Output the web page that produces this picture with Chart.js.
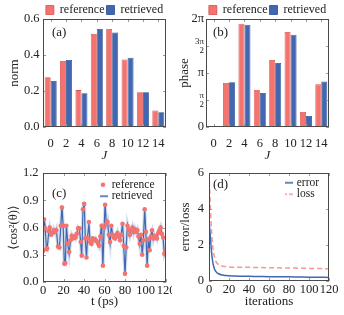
<!DOCTYPE html>
<html>
<head>
<meta charset="utf-8">
<script src="https://cdn.jsdelivr.net/npm/chart.js@4.4.0/dist/chart.umd.min.js"></script>
<style>
  html, body { margin: 0; padding: 0; background: #fff; }
  #fig { position: relative; width: 344px; height: 315px; overflow: hidden; }
  #fig canvas { position: absolute; }
  .tag { position: absolute; font: 13px "Liberation Serif", serif; color: #222; line-height: 1; }
</style>
</head>
<body>
<div id="fig">
  <canvas id="normChart" width="172" height="162" style="left:0;top:0"></canvas>
  <canvas id="phaseChart" width="172" height="162" style="left:172px;top:0"></canvas>
  <canvas id="alignChart" width="172" height="153" style="left:0;top:162px"></canvas>
  <canvas id="lossChart" width="172" height="153" style="left:172px;top:162px"></canvas>
  <div class="tag" style="left:52px;top:25px">(a)</div>
  <div class="tag" style="left:213px;top:25px">(b)</div>
  <div class="tag" style="left:52px;top:186px">(c)</div>
  <div class="tag" style="left:213px;top:177px">(d)</div>
</div>
<script>
// panel (a) / (b): expansion coefficients per J
const J = ['0', '2', '4', '6', '8', '10', '12', '14'];
const normRef = [0.276, 0.367, 0.205, 0.517, 0.545, 0.375, 0.193, 0.092];
const normRet = [0.256, 0.372, 0.188, 0.545, 0.525, 0.385, 0.193, 0.082];
const normTicks = [0, 0.2, 0.4, 0.6];
const phaseRef = [0.03, 2.56, 6.01, 2.15, 3.90, 5.53, 0.87, 2.48];
const phaseRet = [0.03, 2.60, 5.95, 1.98, 3.72, 5.37, 0.64, 2.64];
const phaseTicks = [0, Math.PI / 2, Math.PI, 3 * Math.PI / 2, 2 * Math.PI];
const phaseTickLabels = ['0', ['π', '2'], 'π', ['3π', '2'], '2π'];

// panel (c): alignment trace
const tPs = [0, 1, 2, 3.3, 4, 5.5, 6.5, 8, 9.2, 10.4,
  11.7, 13, 14.6, 16, 17.3, 18.5, 19.7, 20.8, 21.8, 22.8,
  24.2, 25.5, 26.8, 28, 29.3, 30.6, 31.8, 33, 34.3, 35.6,
  36.8, 37.8, 39, 40.2, 41.3, 42.4, 43.5, 44.8, 46, 47.3,
  48.5, 49.8, 51, 52.3, 53.5, 54.7, 56, 57.2, 58.4, 59.6,
  60.6, 61.8, 63, 64.2, 65.4, 66.6, 67.8, 69, 70.3, 71.5,
  72.7, 74, 75.2, 76.4, 77.6, 78.8, 80, 81.2, 82.4, 83.6,
  84.8, 86, 87.2, 88.4, 89.6, 90.8, 92, 93.2, 94.4, 95.6,
  96.8, 98, 99.2, 100.4, 101.6, 102.8, 104, 105.2, 106.4, 107.6,
  108.8, 110, 111.2, 112.4, 113.6, 114.8, 116, 117.2, 118.4, 119.6];
const cosRef = [0.34, 0.69, 0.59, 0.36, 0.37, 0.56, 0.60, 0.52, 0.54, 0.57,
  0.55, 0.57, 0.39, 0.38, 0.62, 0.82, 0.62, 0.20, 0.21, 0.62,
  0.42, 0.33, 0.46, 0.51, 0.48, 0.50, 0.49, 0.53, 0.59, 0.59,
  0.44, 0.29, 0.80, 0.86, 0.48, 0.27, 0.48, 0.66, 0.44, 0.42,
  0.48, 0.46, 0.47, 0.45, 0.43, 0.40, 0.50, 0.62, 0.18, 0.60,
  0.85, 0.64, 0.66, 0.52, 0.44, 0.62, 0.52, 0.49, 0.48, 0.52,
  0.54, 0.50, 0.46, 0.52, 0.64, 0.40, 0.09, 0.38, 0.62, 0.58,
  0.52, 0.56, 0.60, 0.55, 0.58, 0.55, 0.57, 0.50, 0.42, 0.52,
  0.30, 0.46, 0.80, 0.55, 0.18, 0.47, 0.35, 0.50, 0.57, 0.48,
  0.51, 0.49, 0.48, 0.54, 0.57, 0.60, 0.53, 0.49, 0.31, 0.34];
const cosRet = [0.34, 0.70, 0.62, 0.37, 0.36, 0.54, 0.60, 0.52, 0.53, 0.58,
  0.54, 0.58, 0.38, 0.37, 0.60, 0.84, 0.61, 0.21, 0.20, 0.63,
  0.42, 0.31, 0.45, 0.52, 0.49, 0.51, 0.48, 0.53, 0.60, 0.58,
  0.43, 0.28, 0.79, 0.88, 0.47, 0.26, 0.50, 0.64, 0.42, 0.41,
  0.47, 0.46, 0.48, 0.45, 0.42, 0.39, 0.51, 0.64, 0.17, 0.58,
  0.87, 0.63, 0.67, 0.51, 0.42, 0.63, 0.53, 0.48, 0.47, 0.51,
  0.55, 0.49, 0.46, 0.53, 0.65, 0.39, 0.08, 0.40, 0.63, 0.57,
  0.51, 0.57, 0.61, 0.54, 0.59, 0.55, 0.58, 0.49, 0.41, 0.53,
  0.29, 0.47, 0.81, 0.53, 0.17, 0.49, 0.34, 0.52, 0.56, 0.47,
  0.52, 0.50, 0.47, 0.55, 0.58, 0.61, 0.52, 0.48, 0.30, 0.33];
const cosTicks = [0, 0.3, 0.6, 0.9, 1.2];
const tTicks = [0, 20, 40, 60, 80, 100, 120];

// panel (d): convergence
const iterations = [0, 1, 2, 3, 4, 5, 6, 7, 8, 10, 12, 14, 16, 18, 20, 25, 30, 40, 50, 60, 70, 80, 90, 100, 110, 120];
const errorVals = [3.4, 2.7, 1.95, 1.35, 0.98, 0.75, 0.6, 0.52, 0.46, 0.39, 0.35, 0.33, 0.31, 0.3, 0.29, 0.28, 0.27, 0.26, 0.25, 0.24, 0.235, 0.23, 0.22, 0.21, 0.205, 0.2];
const lossVals = [6.0, 4.6, 3.3, 2.4, 1.8, 1.45, 1.22, 1.08, 0.99, 0.9, 0.85, 0.82, 0.8, 0.79, 0.78, 0.77, 0.77, 0.76, 0.75, 0.74, 0.73, 0.72, 0.71, 0.7, 0.69, 0.68];
const lossTicks = [0, 2, 4, 6];

const RED = '#F4736F';
const RED_EDGE = '#D9524E';
const BLUE = '#4167B1';
const BLUE_EDGE = '#2C4E93';

Chart.defaults.font.family = '"Liberation Serif", "DejaVu Serif", serif';
Chart.defaults.font.size = 12;
Chart.defaults.color = '#222';
Chart.defaults.animation = false;

// box around the plot with small inward ticks on every side
const framePlugin = {
  id: 'frame',
  afterDatasetsDraw(chart) {
    const { ctx, chartArea: a, scales } = chart;
    ctx.save();
    ctx.lineWidth = 1;
    ctx.strokeStyle = '#9a9a9a';
    ctx.beginPath();
    scales.x.ticks.forEach((t, i) => {
      const px = Math.round(scales.x.getPixelForTick(i)) + 0.5;
      ctx.moveTo(px, a.bottom); ctx.lineTo(px, a.bottom - 3);
      ctx.moveTo(px, a.top); ctx.lineTo(px, a.top + 3);
    });
    scales.y.ticks.forEach((t, i) => {
      const py = Math.round(scales.y.getPixelForTick(i)) + 0.5;
      ctx.moveTo(a.left, py); ctx.lineTo(a.left + 3, py);
      ctx.moveTo(a.right, py); ctx.lineTo(a.right - 3, py);
    });
    ctx.stroke();
    ctx.strokeStyle = '#4a4a4a';
    ctx.strokeRect(Math.round(a.left) + 0.5, Math.round(a.top) + 0.5,
      Math.round(a.right - a.left) - 1, Math.round(a.bottom - a.top) - 1);
    ctx.restore();
  }
};

// moves a chartArea legend to a fixed spot inside the plot
const legendSpot = {
  id: 'legendSpot',
  afterLayout(chart, args, opts) {
    const lg = chart.legend;
    const w = lg.width, h = lg.height;
    lg.left = opts.x; lg.right = opts.x + w;
    lg.top = opts.y; lg.bottom = opts.y + h;
  }
};

function fixSize(w, h) {
  return (scale) => {
    if (w != null) scale.width = w;
    if (h != null) scale.height = h;
    scale.paddingLeft = scale.paddingRight = scale.paddingTop = scale.paddingBottom = 0;
  };
}

function setTicks(values) {
  return (scale) => { scale.ticks = values.map(v => ({ value: v })); };
}

function marker(draw) {
  const c = document.createElement('canvas');
  c.width = 12; c.height = 6;
  draw(c.getContext('2d'));
  return c;
}
const dotMark = marker(ctx => { ctx.fillStyle = RED; ctx.beginPath(); ctx.arc(6, 3, 2.3, 0, Math.PI * 2); ctx.fill(); });
const blueLineMark = marker(ctx => { ctx.strokeStyle = BLUE; ctx.lineWidth = 1.6; ctx.beginPath(); ctx.moveTo(1, 3); ctx.lineTo(11, 3); ctx.stroke(); });
const dashMark = marker(ctx => { ctx.strokeStyle = 'rgba(244,115,111,0.75)'; ctx.lineWidth = 1.6; ctx.setLineDash([4, 2]); ctx.beginPath(); ctx.moveTo(1, 3); ctx.lineTo(12, 3); ctx.stroke(); });

function markedLabels(marks) {
  return (chart) => Chart.defaults.plugins.legend.labels.generateLabels(chart)
    .filter(it => it.text)
    .map(it => Object.assign(it, { pointStyle: marks[it.text] }));
}

const barLegend = {
  position: 'top', fullSize: false, maxHeight: 17,
  labels: { boxWidth: 8, boxHeight: 9, padding: 2, font: { size: 12 } }
};

function barDatasets(ref, ret) {
  return [
    { label: 'reference', data: ref, backgroundColor: RED, borderColor: RED_EDGE, borderWidth: 0.8, categoryPercentage: 0.78, barPercentage: 1 },
    { label: 'retrieved', data: ret, backgroundColor: BLUE, borderColor: BLUE_EDGE, borderWidth: 0.8, categoryPercentage: 0.78, barPercentage: 1 }
  ];
}

const jAxis = {
  grid: { display: false, drawTicks: false },
  border: { display: false },
  ticks: { padding: 9, autoSkip: false, maxRotation: 0, font: { size: 12.5 } },
  title: { display: true, text: 'J', font: { size: 13, style: 'italic', lineHeight: 1 }, padding: 0 },
  afterFit: fixSize(null, 35)
};

new Chart(document.getElementById('normChart'), {
  type: 'bar',
  data: { labels: J, datasets: barDatasets(normRef, normRet) },
  options: {
    responsive: false, devicePixelRatio: 1,
    layout: { padding: { top: 2, right: 6, left: 0, bottom: 0 } },
    plugins: { legend: barLegend, tooltip: { enabled: false } },
    scales: {
      x: jAxis,
      y: {
        min: 0, max: 0.6,
        grid: { display: false, drawTicks: false },
        border: { display: false },
        afterBuildTicks: setTicks(normTicks),
        ticks: { padding: 3.5, font: { size: 12.5 }, callback: v => v.toFixed(1) },
        title: { display: true, text: 'norm', font: { size: 13, lineHeight: 1 }, padding: { top: 8, bottom: 0 } },
        afterFit: fixSize(43, null)
      }
    }
  },
  plugins: [framePlugin]
});

new Chart(document.getElementById('phaseChart'), {
  type: 'bar',
  data: { labels: J, datasets: barDatasets(phaseRef, phaseRet) },
  options: {
    responsive: false, devicePixelRatio: 1,
    layout: { padding: { top: 2, right: 15, left: 0, bottom: 0 } },
    plugins: { legend: barLegend, tooltip: { enabled: false } },
    scales: {
      x: jAxis,
      y: {
        min: 0, max: 2 * Math.PI,
        grid: { display: false, drawTicks: false },
        border: { display: false },
        afterBuildTicks: setTicks(phaseTicks),
        ticks: {
          padding: 2,
          callback: (v, i) => phaseTickLabels[i],
          font: (c) => Array.isArray(phaseTickLabels[c.index]) ? { size: 9, lineHeight: 1 } : { size: 12.5 }
        },
        title: { display: true, text: 'phase', font: { size: 13, lineHeight: 1 }, padding: { top: 6, bottom: 0 } },
        afterFit: fixSize(34, null)
      }
    }
  },
  plugins: [framePlugin]
});

new Chart(document.getElementById('alignChart'), {
  type: 'scatter',
  data: {
    datasets: [
      { label: 'reference', data: tPs.map((t, i) => ({ x: t, y: cosRef[i] })), backgroundColor: RED, borderWidth: 0, pointRadius: 2.3, order: 0 },
      { label: 'retrieved', data: tPs.map((t, i) => ({ x: t, y: cosRet[i] })), showLine: true, borderColor: BLUE, borderWidth: 1.2, pointRadius: 0, order: 1 },
      { label: '', data: tPs.map((t, i) => ({ x: t, y: cosRet[i] })), showLine: true, borderColor: 'rgba(65,103,177,0.22)', borderWidth: 3.5, pointRadius: 0, order: 2 }
    ]
  },
  options: {
    responsive: false, devicePixelRatio: 1,
    layout: { padding: { top: 11, right: 6, left: 0, bottom: 0 } },
    plugins: {
      tooltip: { enabled: false },
      legend: {
        position: 'chartArea', align: 'start',
        labels: {
          usePointStyle: true, boxWidth: 6, boxHeight: 6, padding: 0, font: { size: 11.5 },
          generateLabels: markedLabels({ reference: dotMark, retrieved: blueLineMark })
        }
      },
      legendSpot: { x: 100, y: 17 }
    },
    scales: {
      x: {
        type: 'linear', min: 0, max: 120,
        grid: { display: false, drawTicks: false },
        border: { display: false },
        afterBuildTicks: setTicks(tTicks),
        ticks: { padding: 1, autoSkip: false, maxRotation: 0, font: { size: 12.5 } },
        title: { display: true, text: 't (ps)', font: { size: 13, lineHeight: 1 }, padding: { top: 0, bottom: 7 } },
        afterFit: fixSize(null, 33)
      },
      y: {
        min: 0, max: 1.2,
        grid: { display: false, drawTicks: false },
        border: { display: false },
        afterBuildTicks: setTicks(cosTicks),
        ticks: { padding: 4.5, font: { size: 12.5 }, callback: v => v.toFixed(1) },
        title: { display: true, text: '⟨cos²(θ)⟩', font: { size: 12.5, lineHeight: 1 }, padding: { top: 7, bottom: 0 } },
        afterFit: fixSize(43, null)
      }
    }
  },
  plugins: [framePlugin, legendSpot]
});

new Chart(document.getElementById('lossChart'), {
  type: 'line',
  data: {
    datasets: [
      { label: 'error', data: iterations.map((n, i) => ({ x: n, y: errorVals[i] })), borderColor: BLUE, borderWidth: 1.5, pointRadius: 0, cubicInterpolationMode: 'monotone' },
      { label: 'loss', data: iterations.map((n, i) => ({ x: n, y: lossVals[i] })), borderColor: 'rgba(244,115,111,0.75)', borderWidth: 1.5, borderDash: [5, 3], pointRadius: 0, cubicInterpolationMode: 'monotone' }
    ]
  },
  options: {
    responsive: false, devicePixelRatio: 1,
    layout: { padding: { top: 11, right: 15, left: 0, bottom: 0 } },
    plugins: {
      tooltip: { enabled: false },
      legend: {
        position: 'chartArea', align: 'start',
        labels: {
          usePointStyle: true, boxWidth: 6, boxHeight: 6, padding: 0, font: { size: 11.5 },
          generateLabels: markedLabels({ error: blueLineMark, loss: dashMark })
        }
      },
      legendSpot: { x: 113, y: 15 }
    },
    scales: {
      x: {
        type: 'linear', min: 0, max: 120,
        grid: { display: false, drawTicks: false },
        border: { display: false },
        afterBuildTicks: setTicks(tTicks),
        ticks: { padding: 1, autoSkip: false, maxRotation: 0, font: { size: 12.5 } },
        title: { display: true, text: 'iterations', font: { size: 13, lineHeight: 1 }, padding: { top: 0, bottom: 7 } },
        afterFit: fixSize(null, 34)
      },
      y: {
        min: 0, max: 6,
        grid: { display: false, drawTicks: false },
        border: { display: false },
        afterBuildTicks: setTicks(lossTicks),
        ticks: { padding: 5, font: { size: 12.5 } },
        title: { display: true, text: 'error/loss', font: { size: 13, lineHeight: 1 }, padding: { top: 7, bottom: 0 } },
        afterFit: fixSize(37, null)
      }
    }
  },
  plugins: [framePlugin, legendSpot]
});
</script>
</body>
</html>
